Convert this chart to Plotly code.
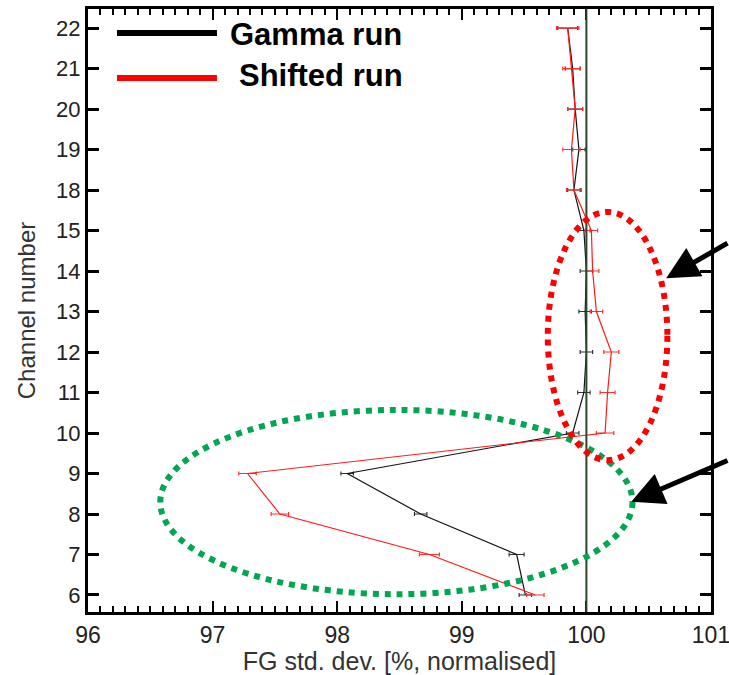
import plotly.graph_objects as go

# ---- data ----
channels = ["6", "7", "8", "9", "10", "11", "12", "13", "14", "15", "18", "19", "20", "21", "22"]
gamma_run = [99.51, 99.44, 98.67, 98.08, 99.89, 99.98, 100.00, 99.99, 100.00, 99.98, 99.90, 99.94, 99.91, 99.89, 99.85]
gamma_err = [0.05, 0.06, 0.05, 0.05, 0.05, 0.05, 0.05, 0.05, 0.05, 0.05, 0.05, 0.05, 0.06, 0.06, 0.08]
shifted_run = [99.59, 98.74, 97.54, 97.28, 100.15, 100.17, 100.20, 100.08, 100.05, 100.04, 99.90, 99.88, 99.91, 99.88, 99.85]
shifted_err = [0.07, 0.08, 0.07, 0.07, 0.07, 0.06, 0.06, 0.05, 0.05, 0.05, 0.06, 0.07, 0.06, 0.07, 0.09]
reference_value = 100.0
x_ticks = [96, 97, 98, 99, 100, 101]
x_range = [96, 101]
# highlighted regions (x0, x1, channel-index y0, y1)
red_region = [99.69, 100.65, 3.33, 9.46]
green_region = [96.58, 100.37, 0.02, 4.57]
series_names = ["Gamma run", "Shifted run"]

ypos = list(range(len(channels)))
FONT = "Liberation Sans, Arial, sans-serif"

fig = go.Figure()

fig.add_trace(go.Scatter(
    x=gamma_run, y=ypos, mode="lines", name=series_names[0],
    line=dict(color="#111111", width=1.2),
    error_x=dict(type="data", array=gamma_err, color="#333333", thickness=1.2, width=2),
    showlegend=False,
))
fig.add_trace(go.Scatter(
    x=shifted_run, y=ypos, mode="lines", name=series_names[1],
    line=dict(color="#ff1a1a", width=1.2),
    error_x=dict(type="data", array=shifted_err, color="#ff3030", thickness=1.2, width=2),
    showlegend=False,
))

fig.add_vline(x=reference_value, line=dict(color="#2b452b", width=2), layer="above")

# ellipses
fig.add_shape(type="circle", xref="x", yref="y",
              x0=green_region[0], x1=green_region[1], y0=green_region[2], y1=green_region[3],
              line=dict(color="#00a651", width=6, dash="dot"))
fig.add_shape(type="circle", xref="x", yref="y",
              x0=red_region[0], x1=red_region[1], y0=red_region[2], y1=red_region[3],
              line=dict(color="#ff0000", width=6, dash="dot"))

# arrows
fig.add_annotation(x=100.64, y=7.82, xref="x", yref="y", text="", showarrow=True,
                   ax=90, ay=-36, arrowhead=2, arrowsize=1.3, arrowwidth=5, arrowcolor="black")
fig.add_annotation(x=100.36, y=2.30, xref="x", yref="y", text="", showarrow=True,
                   ax=115, ay=-42, arrowhead=2, arrowsize=1.3, arrowwidth=5, arrowcolor="black")

# legend drawn manually
fig.add_shape(type="line", xref="paper", yref="paper", x0=0.0465, x1=0.207, y0=0.960, y1=0.960,
              line=dict(color="black", width=6))
fig.add_shape(type="line", xref="paper", yref="paper", x0=0.0465, x1=0.207, y0=0.8856, y1=0.8856,
              line=dict(color="#ff0000", width=6))
fig.add_annotation(x=0.2247, y=0.958, xref="paper", yref="paper", text="<b>" + series_names[0] + "</b>",
                   showarrow=False, xanchor="left", yanchor="middle",
                   font=dict(family=FONT, size=31, color="black"))
fig.add_annotation(x=0.2392, y=0.889, xref="paper", yref="paper", text="<b>" + series_names[1] + "</b>",
                   showarrow=False, xanchor="left", yanchor="middle",
                   font=dict(family=FONT, size=31, color="black"))

fig.update_layout(
    width=729, height=675,
    margin=dict(l=88, r=18, t=9, b=63),
    paper_bgcolor="white", plot_bgcolor="white",
    font=dict(family=FONT, size=23, color="#333333"),
    xaxis=dict(
        range=x_range, tickvals=x_ticks, ticktext=[str(v) for v in x_ticks],
        showgrid=False, zeroline=False, ticklabeloverflow="allow", automargin=False,
        showline=True, linecolor="black", linewidth=3, mirror="allticks",
        ticks="inside", ticklen=11, tickwidth=2, tickcolor="black",
        minor=dict(dtick=0.1, ticks="inside", ticklen=6, tickwidth=1.5, tickcolor="black", showgrid=False),
        tickfont=dict(size=23, color="#222222"),
        title=dict(text="FG std. dev. [%, normalised]", font=dict(size=25, color="#333333"), standoff=5),
    ),
    yaxis=dict(
        range=[-0.42, 14.47], tickvals=ypos, ticktext=channels, automargin=False,
        showgrid=False, zeroline=False,
        showline=True, linecolor="black", linewidth=3, mirror="allticks",
        ticks="inside", ticklen=11, tickwidth=2.5, tickcolor="black",
        tickfont=dict(size=22, color="#222222"),
        title=dict(text="Channel number", font=dict(size=24, color="#333333"), standoff=14),
    ),
)

fig.write_html("out.html", config={"displayModeBar": False},
               post_script="document.body.style.margin='0';document.body.style.padding='0';")
